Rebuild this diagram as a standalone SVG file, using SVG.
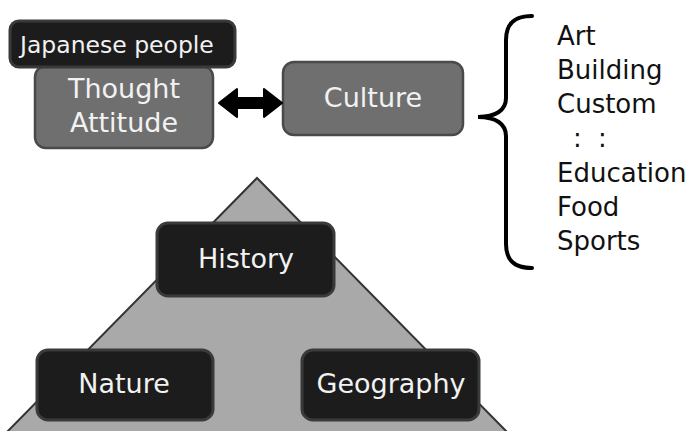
<svg xmlns="http://www.w3.org/2000/svg" width="692" height="431" viewBox="0 0 692 431">
<style>
text{font-family:"DejaVu Sans","Liberation Sans",sans-serif;}
.dark{fill:#1c1c1c;stroke:#3a3a3a;stroke-width:3;}
.gray{fill:#6f6f6f;stroke:#4a4a4a;stroke-width:2.5;}
.wt{fill:#f2f2f2;font-size:27px;text-anchor:middle;}
.lt{fill:#111;font-size:26px;}
</style>
<rect width="692" height="431" fill="#fff"/>
<g id="pyramid"><polygon points="257,178 6,433 508,433" fill="#a9a9a9" stroke="#333" stroke-width="2"/></g>
<g id="thought"><rect class="gray" x="35" y="66" width="178" height="82" rx="11"/><text class="wt" x="124" y="98">Thought</text><text class="wt" x="124" y="132">Attitude</text></g>
<g id="japanese"><rect class="dark" x="10" y="21" width="225" height="46" rx="9"/><text x="20" y="53" fill="#f2f2f2" style="font-size:23.5px">Japanese people</text></g>
<g id="culture"><rect class="gray" x="283" y="62" width="180" height="73" rx="11"/><text class="wt" x="373" y="107">Culture</text></g>
<g id="history"><rect class="dark" x="157" y="223" width="177" height="73" rx="11"/><text class="wt" x="246" y="268">History</text></g>
<g id="nature"><rect class="dark" x="37" y="350" width="176" height="70" rx="11"/><text class="wt" x="124" y="393">Nature</text></g>
<g id="geography"><rect class="dark" x="302" y="350" width="177" height="70" rx="11"/><text class="wt" x="391" y="393">Geography</text></g>
<g id="connectors">
<polygon points="219,103 237,89 237,98 264,98 264,89 282,103 264,117 264,108 237,108 237,117" fill="#000" stroke="#000" stroke-width="2" stroke-linejoin="round"/>
</g>
<g id="brace">
<path d="M532,16 C514,16 506,24 506,40 L506,98 C506,110 496,117 478,117 C496,117 506,124 506,136 L506,244 C506,260 514,268 532,268" fill="none" stroke="#000" stroke-width="4" stroke-linecap="round"/>
</g>
<g id="list">
<text class="lt" x="557" y="45">Art</text>
<text class="lt" x="557" y="79">Building</text>
<text class="lt" x="557" y="113">Custom</text>
<text class="lt" x="573" y="147">:</text>
<text class="lt" x="598" y="147">:</text>
<text class="lt" x="557" y="182">Education</text>
<text class="lt" x="557" y="216">Food</text>
<text class="lt" x="557" y="250">Sports</text>
</g>
</svg>
